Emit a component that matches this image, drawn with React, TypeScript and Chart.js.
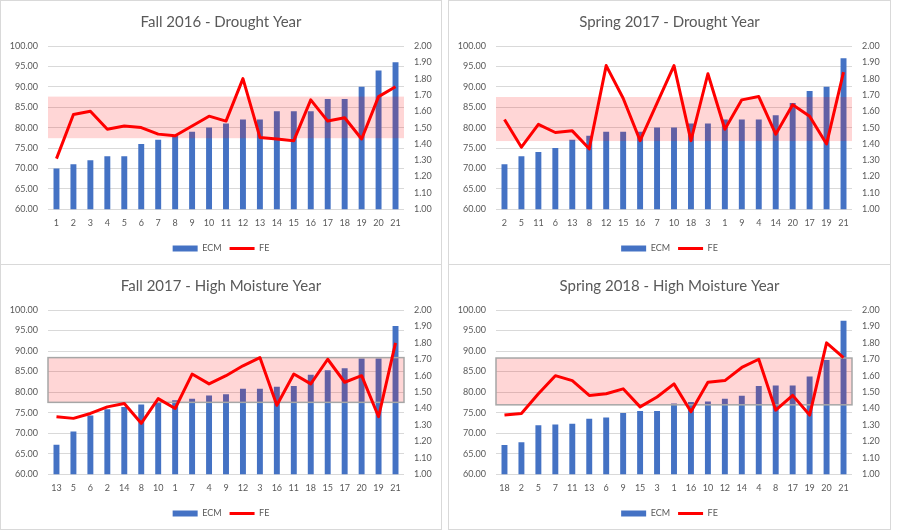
import React, { useEffect, useRef } from 'react';
import { Chart, registerables } from 'chart.js';

Chart.register(...registerables);

const FONT = 'Lato, "Open Sans", sans-serif';
const TEXT = '#595959';
const GRID = '#D9D9D9';
const BLUE = '#4472C4';
const RED = '#FF0000';

// Fall 2016 - Drought Year
const fall16Labels = ['1', '2', '3', '4', '5', '6', '7', '8', '9', '10', '11', '12', '13', '14', '15', '16', '17', '18', '19', '20', '21'];
const fall16Ecm = [70, 71, 72, 73, 73, 76, 77, 78, 79, 80, 81, 82, 82, 84, 84, 84, 87, 87, 90, 94, 96];
const fall16Fe = [1.31, 1.58, 1.6, 1.49, 1.51, 1.5, 1.46, 1.45, 1.51, 1.57, 1.54, 1.8, 1.44, 1.43, 1.42, 1.67, 1.54, 1.56, 1.43, 1.69, 1.75];
const fall16Band = [77.4, 87.6];

// Spring 2017 - Drought Year
const spring17Labels = ['2', '5', '11', '6', '13', '8', '12', '15', '16', '7', '10', '18', '3', '1', '9', '4', '14', '20', '17', '19', '21'];
const spring17Ecm = [71, 73, 74, 75, 77, 78, 79, 79, 79, 80, 80, 81, 81, 82, 82, 82, 83, 86, 89, 90, 97];
const spring17Fe = [1.55, 1.38, 1.52, 1.47, 1.48, 1.37, 1.88, 1.68, 1.42, 1.65, 1.88, 1.42, 1.83, 1.49, 1.67, 1.69, 1.46, 1.64, 1.57, 1.4, 1.84];
const spring17Band = [76.7, 87.5];

// Fall 2017 - High Moisture Year
const fall17Labels = ['13', '5', '6', '2', '14', '8', '10', '1', '7', '4', '9', '12', '3', '16', '11', '18', '15', '17', '20', '19', '21'];
const fall17Ecm = [67.2, 70.4, 74.3, 75.8, 76.4, 77.0, 77.6, 78.0, 78.4, 79.2, 79.5, 80.8, 80.8, 81.3, 81.5, 84.2, 85.3, 85.8, 88.2, 88.2, 96.1];
const fall17Fe = [1.35, 1.34, 1.37, 1.41, 1.43, 1.31, 1.46, 1.4, 1.61, 1.55, 1.6, 1.66, 1.71, 1.42, 1.61, 1.55, 1.7, 1.56, 1.6, 1.35, 1.8];
const fall17Band = [77.5, 88.4];

// Spring 2018 - High Moisture Year
const spring18Labels = ['18', '2', '5', '7', '11', '13', '6', '9', '15', '3', '1', '16', '10', '12', '14', '4', '8', '17', '19', '20', '21'];
const spring18Ecm = [67.1, 67.8, 71.9, 72.1, 72.3, 73.5, 73.8, 74.9, 75.4, 75.4, 77.2, 77.6, 77.7, 78.4, 79.1, 81.5, 81.6, 81.6, 83.8, 87.8, 97.4];
const spring18Fe = [1.36, 1.37, 1.49, 1.6, 1.57, 1.48, 1.49, 1.52, 1.41, 1.47, 1.55, 1.38, 1.56, 1.57, 1.65, 1.7, 1.39, 1.48, 1.36, 1.8, 1.71];
const spring18Band = [76.9, 88.3];

// pink target band, drawn over the bars and under the FE line
const bandPlugin = {
  id: 'band',
  beforeDatasetDraw(chart: any, args: any, opts: any) {
    if (args.meta.type !== 'line') return;
    const { ctx, chartArea, scales } = chart;
    const top = scales.y.getPixelForValue(opts.max);
    const bottom = scales.y.getPixelForValue(opts.min);
    ctx.save();
    ctx.fillStyle = 'rgba(255, 0, 0, 0.16)';
    ctx.fillRect(chartArea.left, top, chartArea.width, bottom - top);
    if (opts.border) {
      ctx.strokeStyle = '#A6A6A6';
      ctx.lineWidth = 1.5;
      ctx.strokeRect(chartArea.left, top, chartArea.width, bottom - top);
    }
    ctx.restore();
  },
};

interface PanelProps {
  title: string;
  labels: string[];
  ecm: number[];
  fe: number[];
  band: number[];
  bandBorder?: boolean;
  left: number;
  top: number;
  width: number;
  height: number;
}

const Panel: React.FC<PanelProps> = ({ title, labels, ecm, fe, band, bandBorder = false, left, top, width, height }) => {
  const chartRef = useRef<HTMLCanvasElement | null>(null);

  useEffect(() => {
    if (!chartRef.current) return;
    const tickFont = { family: FONT, size: 9 };

    const chart = new Chart(chartRef.current, {
      type: 'bar',
      data: {
        labels,
        datasets: [
          {
            type: 'bar',
            label: 'ECM',
            data: ecm,
            yAxisID: 'y',
            backgroundColor: BLUE,
            barPercentage: 0.35,
            categoryPercentage: 1,
            order: 1,
            pointStyle: 'rect',
          } as any,
          {
            type: 'line',
            label: 'FE',
            data: fe,
            yAxisID: 'y1',
            borderColor: RED,
            backgroundColor: RED,
            borderWidth: 3,
            borderJoinStyle: 'round',
            pointRadius: 0,
            pointStyle: 'line',
            tension: 0,
            order: 0,
          } as any,
        ],
      },
      options: {
        responsive: true,
        maintainAspectRatio: false,
        animation: false,
        layout: { padding: { left: 0, right: 0, top: 12, bottom: 1 } },
        plugins: {
          title: {
            display: true,
            text: title,
            color: TEXT,
            font: { family: FONT, size: 15, weight: 'normal' },
            padding: { top: 0, bottom: 15 },
          },
          legend: {
            position: 'bottom',
            labels: {
              usePointStyle: true,
              pointStyleWidth: 25,
              boxHeight: 6,
              color: TEXT,
              font: tickFont,
              padding: 8,
              sort: (a: any, b: any) => a.datasetIndex - b.datasetIndex,
            },
          },
          tooltip: { enabled: false },
          band: { min: band[0], max: band[1], border: bandBorder },
        } as any,
        scales: {
          x: {
            grid: { display: false, drawTicks: false },
            border: { display: false },
            ticks: { color: TEXT, font: tickFont, padding: 8, maxRotation: 0, autoSkip: false },
          },
          y: {
            position: 'left',
            min: 60,
            max: 100,
            grid: { color: GRID, drawTicks: false },
            border: { display: false },
            afterFit: (scale: any) => {
              scale.width = 47;
            },
            ticks: {
              stepSize: 5,
              padding: 10,
              color: TEXT,
              font: tickFont,
              callback: (v: any) => Number(v).toFixed(2),
            },
          },
          y1: {
            position: 'right',
            min: 1,
            max: 2,
            grid: { display: false, drawTicks: false },
            border: { display: false },
            afterFit: (scale: any) => {
              scale.width = scale.chart.width - 403;
            },
            ticks: {
              stepSize: 0.1,
              padding: 10,
              color: TEXT,
              font: tickFont,
              callback: (v: any) => Number(v).toFixed(2),
            },
          },
        },
      },
      plugins: [bandPlugin],
    });

    return () => {
      chart.destroy();
    };
  }, [title, labels, ecm, fe, band, bandBorder]);

  return (
    <div
      style={{
        position: 'absolute',
        left,
        top,
        width,
        height,
        boxSizing: 'border-box',
        border: '1px solid #D9D9D9',
        background: '#fff',
      }}
    >
      <canvas ref={chartRef}></canvas>
    </div>
  );
};

export default function App() {
  return (
    <div style={{ position: 'fixed', left: 0, top: 0, width: 900, height: 532, background: '#fff' }}>
      <Panel title="Fall 2016 - Drought Year" labels={fall16Labels} ecm={fall16Ecm} fe={fall16Fe} band={fall16Band}
        left={0} top={0} width={442} height={265} />
      <Panel title="Spring 2017 - Drought Year" labels={spring17Labels} ecm={spring17Ecm} fe={spring17Fe} band={spring17Band}
        left={448} top={0} width={443} height={265} />
      <Panel title="Fall 2017 - High Moisture Year" labels={fall17Labels} ecm={fall17Ecm} fe={fall17Fe} band={fall17Band} bandBorder
        left={0} top={264} width={442} height={266} />
      <Panel title="Spring 2018 - High Moisture Year" labels={spring18Labels} ecm={spring18Ecm} fe={spring18Fe} band={spring18Band} bandBorder
        left={448} top={264} width={443} height={266} />
    </div>
  );
}
